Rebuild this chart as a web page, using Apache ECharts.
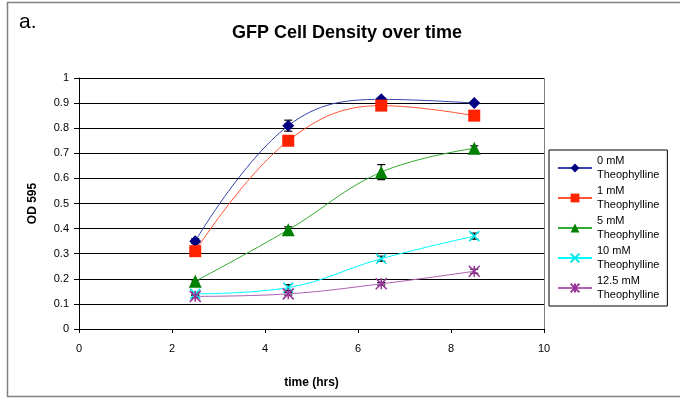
<!DOCTYPE html>
<html>
<head>
<meta charset="utf-8">
<script src="https://cdn.jsdelivr.net/npm/echarts@6/dist/echarts.min.js"></script>
<style>
  html, body { margin: 0; padding: 0; background: #fff; }
  #main { width: 680px; height: 400px; }
</style>
</head>
<body>
<div id="main"></div>
<script>
// time points (hrs)
var hours = [2.5, 4.5, 6.5, 8.5];

// OD 595 readings per theophylline concentration
var od0 = [0.35, 0.81, 0.915, 0.90];
var od1 = [0.31, 0.75, 0.89, 0.85];
var od5 = [0.19, 0.395, 0.625, 0.72];
var od10 = [0.14, 0.165, 0.28, 0.37];
var od125 = [0.13, 0.14, 0.18, 0.23];

// error (+/-)
var err0 = [0.01, 0.022, 0.005, 0.005];
var err1 = [0.005, 0.005, 0.005, 0.005];
var err5 = [0.005, 0.012, 0.03, 0.01];
var err10 = [0.005, 0.012, 0.01, 0.012];
var err125 = [0.005, 0.005, 0.005, 0.008];

var names = ['0 mM\nTheophylline', '1 mM\nTheophylline', '5 mM\nTheophylline', '10 mM\nTheophylline', '12.5 mM\nTheophylline'];
var yTicks = [0, 0.1, 0.2, 0.3, 0.4, 0.5, 0.6, 0.7, 0.8, 0.9, 1];

var chart = echarts.init(document.getElementById('main'), null, { renderer: 'canvas' });

function pairs(vals) {
  return hours.map(function (h, i) { return [h, vals[i]]; });
}
function errPairs(vals, errs) {
  return hours.map(function (h, i) { return [h, vals[i] - errs[i], vals[i] + errs[i]]; });
}

var xMark = 'path://M0,0L10,10M10,0L0,10';
var starMark = 'path://M0,0L10,10M10,0L0,10M5,0L5,10';

function lineSeries(name, vals, lineColor, markColor, symbol, size, markStroke) {
  return {
    name: name,
    type: 'line',
    smooth: 0.4,
    data: pairs(vals),
    symbol: symbol,
    symbolSize: size,
    showAllSymbol: true,
    lineStyle: { color: lineColor, width: 1 },
    itemStyle: markStroke
      ? { color: markColor, borderColor: markColor, borderWidth: 1.5 }
      : { color: markColor, borderWidth: 0 },
    z: 3
  };
}

function errSeries(vals, errs) {
  return {
    type: 'custom',
    silent: true,
    z: 2,
    data: errPairs(vals, errs),
    renderItem: function (params, api) {
      var lo = api.coord([api.value(0), api.value(1)]);
      var hi = api.coord([api.value(0), api.value(2)]);
      var w = 4;
      var st = { stroke: '#000', lineWidth: 1.2 };
      return {
        type: 'group',
        children: [
          { type: 'line', shape: { x1: lo[0], y1: lo[1], x2: hi[0], y2: hi[1] }, style: st },
          { type: 'line', shape: { x1: hi[0] - w, y1: hi[1], x2: hi[0] + w, y2: hi[1] }, style: st },
          { type: 'line', shape: { x1: lo[0] - w, y1: lo[1], x2: lo[0] + w, y2: lo[1] }, style: st }
        ]
      };
    }
  };
}

var font = 'Liberation Sans, Arial, sans-serif';

chart.setOption({
  animation: false,
  backgroundColor: '#fff',
  textStyle: { fontFamily: font },
  title: {
    text: 'GFP Cell Density over time',
    left: 342,
    textAlign: 'center',
    top: 19,
    textStyle: { fontSize: 18, fontWeight: 'bold', color: '#000', fontFamily: font }
  },
  graphic: [
    { type: 'rect', shape: { x: 7.5, y: 2.5, width: 690, height: 394 }, style: { fill: 'none', stroke: '#808080', lineWidth: 1.5 }, silent: true },
    { type: 'text', left: 19, top: 12, style: { text: 'a.', font: '21px ' + font, fill: '#000' } },
    { type: 'line', shape: { x1: 544.5, y1: 78, x2: 544.5, y2: 329 }, style: { stroke: '#808080', lineWidth: 1 } }
  ],
  legend: {
    orient: 'vertical',
    left: 549,
    top: 150,
    width: 128,
    padding: [4, 8, 4, 8],
    borderColor: '#000',
    borderWidth: 1,
    itemGap: 2,
    itemWidth: 34,
    itemHeight: 11,
    textStyle: { fontSize: 11, color: '#000', lineHeight: 14, fontFamily: font },
    data: names
  },
  grid: { left: 79, right: 136, top: 78, bottom: 71 },
  xAxis: {
    type: 'value',
    min: 0,
    max: 10,
    interval: 2,
    name: 'time (hrs)',
    nameLocation: 'middle',
    nameGap: 48,
    nameTextStyle: { fontSize: 12, fontWeight: 'bold', color: '#000' },
    axisLine: { lineStyle: { color: '#000' } },
    axisTick: { show: true, length: 4, lineStyle: { color: '#000' } },
    axisLabel: { fontSize: 11, color: '#000', margin: 14 },
    splitLine: { show: false }
  },
  yAxis: {
    type: 'value',
    min: 0,
    max: 1,
    interval: 0.1,
    name: 'OD 595',
    nameLocation: 'middle',
    nameGap: 40,
    nameTextStyle: { fontSize: 12, fontWeight: 'bold', color: '#000' },
    axisLine: { show: true, lineStyle: { color: '#000' } },
    axisTick: { show: true, length: 5, lineStyle: { color: '#000' } },
    axisLabel: {
      fontSize: 11, color: '#000', margin: 10,
      formatter: function (v) {
        var s = yTicks.filter(function (t) { return Math.abs(t - v) < 1e-6; });
        return s.length ? String(s[0]) : '';
      }
    },
    splitLine: { show: true, lineStyle: { color: '#000', width: 1 } }
  },
  series: [
    lineSeries(names[0], od0, '#3344aa', '#000080', 'diamond', 12, false),
    lineSeries(names[1], od1, '#ff5533', '#ff2200', 'rect', 12, false),
    lineSeries(names[2], od5, '#33aa33', '#008000', 'triangle', 13, false),
    lineSeries(names[3], od10, '#00ffff', '#00e5e5', xMark, 10, true),
    lineSeries(names[4], od125, '#b060b0', '#993399', starMark, 11, true),
    errSeries(od0, err0),
    errSeries(od1, err1),
    errSeries(od5, err5),
    errSeries(od10, err10),
    errSeries(od125, err125)
  ]
});
</script>
</body>
</html>
